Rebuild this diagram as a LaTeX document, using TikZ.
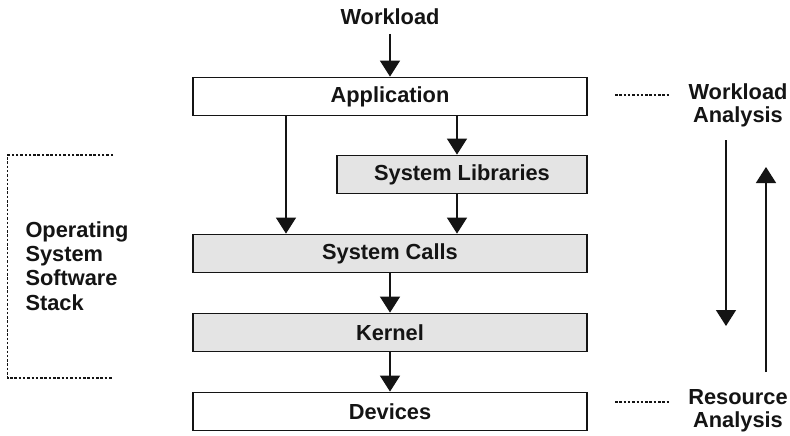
\documentclass[tikz,border=0pt]{standalone}
\usepackage{fontspec}
\setmainfont{Liberation Sans}
\usetikzlibrary{arrows.meta}
\definecolor{boxgray}{HTML}{E4E4E4}
\definecolor{ink}{HTML}{141414}
\begin{document}
\begin{tikzpicture}[x=1pt,y=-1pt,
  lbl/.style={font=\fontsize{21.8}{23}\selectfont\bfseries, text=ink},
  layer/.style={draw=ink, line width=1.8pt, minimum width=394pt, minimum height=38pt, inner sep=0pt, lbl},
  graylayer/.style={layer, fill=boxgray},
  arr/.style={draw=ink, line width=1.4pt, -{Triangle[width=20pt,length=16pt]}},
  dots/.style={draw=ink, line width=1.2pt, dash pattern=on 2.5pt off 1.8pt}
]
\useasboundingbox (0,0) rectangle (790,436);
\fill[white] (0,0) rectangle (790,436);

\node[lbl] (wl) at (390,17) {Workload};
\node[layer] (app) at (390,96.5) {Application};
\node[graylayer, minimum width=250pt] (lib) at (462,174.5) {System Libraries};
\node[graylayer] (calls) at (390,253.5) {System Calls};
\node[graylayer] (kern) at (390,332.5) {Kernel};
\node[layer] (dev) at (390,411.5) {Devices};

\coordinate (xl) at (286,0);
\coordinate (xr) at (457,0);
\coordinate (wlbot) at (390,34);

\draw[arr] (wlbot) -- (app.north);
\draw[arr] (app.south -| xl) -- (calls.north -| xl);
\draw[arr] (app.south -| xr) -- (lib.north -| xr);
\draw[arr] (lib.south -| xr) -- (calls.north -| xr);
\draw[arr] (calls.south) -- (kern.north);
\draw[arr] (kern.south) -- (dev.north);

% right side
\node[lbl, align=center] (wa) at (738,105) {Workload\\Analysis};
\node[lbl, align=center] (ra) at (738,411) {Resource\\Analysis};
\coordinate (d1) at (615,95);
\coordinate (d2) at (669,95);
\coordinate (d3) at (615,402);
\coordinate (d4) at (669,402);
\draw[dots] (d1) -- (d2);
\draw[dots] (d3) -- (d4);

\coordinate (dn1) at (726,140);
\coordinate (dn2) at (726,326);
\coordinate (up1) at (766,372);
\coordinate (up2) at (766,167);
\draw[arr] (dn1) -- (dn2);
\draw[arr] (up1) -- (up2);

% left bracket
\coordinate (b1) at (113,155);
\coordinate (b2) at (7.5,155);
\coordinate (b3) at (7.5,378);
\coordinate (b4) at (113,378);
\draw[dots] (b1) -- (b2) -- (b3) -- (b4);
\node[lbl, align=left, anchor=north west, font=\fontsize{21.8}{24.3}\selectfont\bfseries] (os) at (22,218) {Operating\\System\\Software\\Stack};
\end{tikzpicture}
\end{document}
